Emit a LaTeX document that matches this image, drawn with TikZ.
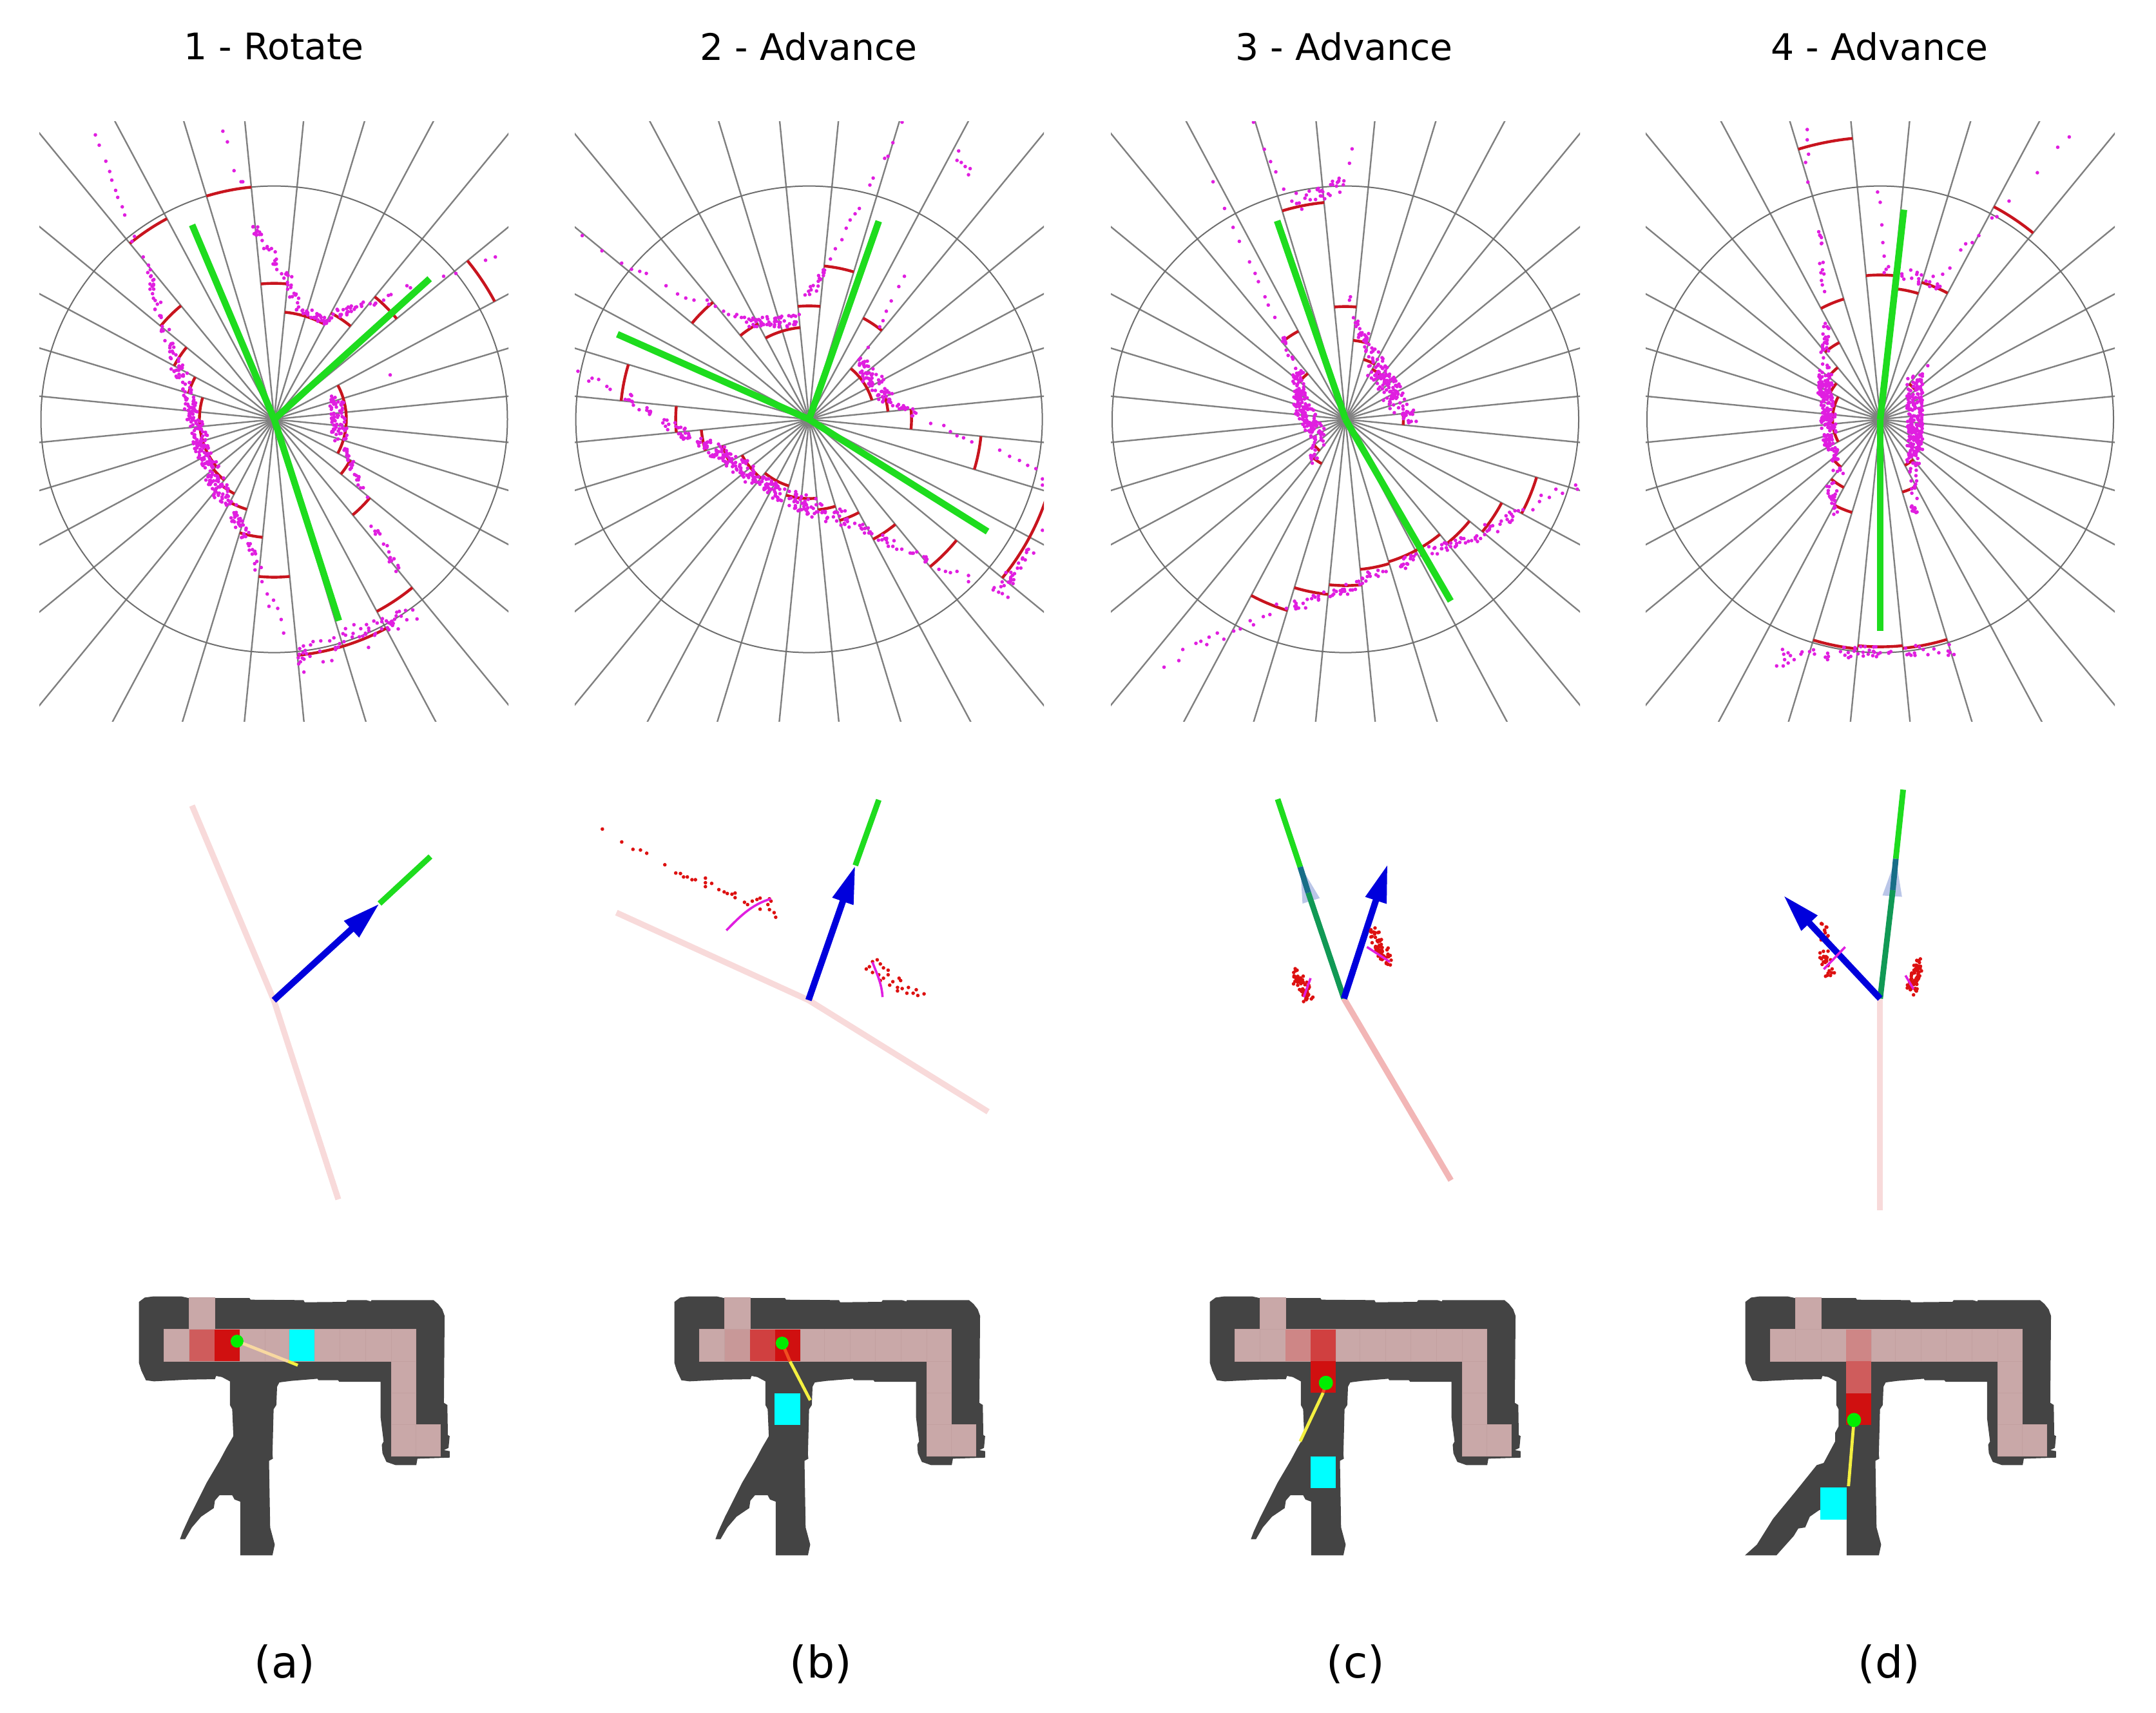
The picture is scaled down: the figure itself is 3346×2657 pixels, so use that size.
\documentclass[tikz,border=0pt]{standalone}
\usepackage{fontspec}
\setmainfont{DejaVu Sans}
\usetikzlibrary{arrows.meta}
\definecolor{raygray}{HTML}{808080}
\definecolor{circgray}{HTML}{6E6E6E}
\definecolor{arcred}{HTML}{C8141E}
\definecolor{magd}{HTML}{E01EE0}
\definecolor{greenl}{HTML}{1EDC1E}
\definecolor{reddot}{HTML}{DD1111}
\definecolor{bluea}{HTML}{0000DC}
\definecolor{palep}{HTML}{F8DADA}
\definecolor{midp}{HTML}{F2B6B6}
\definecolor{darkg}{HTML}{119955}
\definecolor{teal2}{HTML}{186E88}
\definecolor{faintb}{HTML}{BAC6E8}
\definecolor{mapdark}{HTML}{444444}
\definecolor{cellpale}{HTML}{C9A8A8}
\definecolor{cellline}{HTML}{C2A0A0}
\definecolor{cellr1}{HTML}{D01010}
\definecolor{cellr2}{HTML}{D04040}
\definecolor{cellr3}{HTML}{CF5C5C}
\definecolor{cellr4}{HTML}{CE8686}
\definecolor{cellr5}{HTML}{C89898}
\definecolor{cyanb}{HTML}{00FFFF}
\definecolor{dotg}{HTML}{00EE00}
\definecolor{yell}{HTML}{F4F040}
\definecolor{yellp}{HTML}{F8D8A0}
\definecolor{yellr}{HTML}{F05020}
\tikzset{
 ray/.style={draw=raygray,line width=1.2pt},
 circ/.style={draw=circgray,line width=1pt},
 rarc/.style={draw=arcred,line width=2.2pt},
 gline/.style={draw=greenl,line width=5.2pt},
 gmid/.style={draw=greenl,line width=4.4pt},
 paleline/.style={draw=palep,line width=4.6pt},
 midline/.style={draw=midp,line width=4.6pt},
 darkline/.style={draw=darkg,line width=4.4pt},
 tealline/.style={draw=teal2,line width=4.4pt},
 bluearrow/.style={draw=bluea,line width=5pt,-{Triangle[length=29.5pt,width=16pt,fill=bluea]}},
 mdot/.style={fill=magd},
 rdot/.style={fill=reddot},
 marc/.style={draw=magd,line width=1.8pt},
 ttl/.style={inner sep=0pt,font=\fontsize{28.4}{34}\selectfont},
 sub/.style={inner sep=0pt,font=\fontsize{34}{40}\selectfont},
 yline/.style={draw=yell,line width=2.4pt},
 ylp/.style={draw=yellp,line width=2.4pt},
 ylr/.style={draw=yellr,line width=2.4pt},
 gdot/.style={fill=dotg},
}
\newcommand\scat[7]{\foreach \ii in {1,...,#5}{%
 \pgfmathsetmacro\sct{rnd}%
 \pgfmathsetmacro\sxx{#1+(#3-(#1))*\sct+2*#6*(rnd-0.5)}%
 \pgfmathsetmacro\syy{#2+(#4-(#2))*\sct+2*#6*(rnd-0.5)}%
 \fill[#7](\sxx,\syy) circle[radius=1.4pt];}}
\newcommand\pts[2]{\foreach \px/\py in {#2}{\fill[#1](\px,\py) circle[radius=1.4pt];}}
\newcommand\rarc[3]{\draw[rarc] (#1:#3) arc[start angle=#1,end angle=#2,radius=#3];}
\newcommand\wheel{%
 \foreach \k in {0,...,31}{\pgfmathsetmacro\ang{5.625+11.25*\k}\draw[ray] (0,0) -- (\ang:760);}
 \draw[circ] (0,0) circle[radius=362];}
\newcommand\cellp[5]{\fill[#5,draw=cellline,line width=.25pt] (#1,#2) rectangle (#3,#4);}
\newcommand\cell[5]{\fill[#5] (#1,#2) rectangle (#3,#4);}
\newcommand\maptop{(100,120) -- (125,100) -- (160,95) -- (240,95) -- (285,95) -- (315,102) -- (580,102) -- (585,110) -- (815,112) -- (820,122) -- (1000,120) -- (1005,112) -- (1088,112) -- (1108,118) -- (1110,112) -- (1380,112) -- (1400,130) -- (1418,155) -- (1428,185) -- (1425,590) -- (1440,600) -- (1442,740) -- (1450,745) -- (1445,800) -- (1425,810) -- (1450,815) -- (1450,845) -- (1310,850) -- (1305,880) -- (1215,880) -- (1175,865) -- (1158,825) -- (1155,785) -- (1163,770) -- (1150,660) -- (1150,492) -- (970,492) -- (965,485) -- (880,485) -- (875,478) -- (760,488) -- (710,495) -- (700,515) -- (697,600) -- (685,620) -- (680,830) -- (682,850) -- (665,860) -- (670,1170) -- (690,1250) -- (680,1300) -- (540,1300)}
\newcommand\mapbot{(505,620) -- (495,600) -- (495,490) -- (460,470) -- (435,465) -- (430,480) -- (315,482) -- (165,490) -- (130,485) -- (110,440) -- (100,405) -- cycle}
\newcommand\mapA{\fill[mapdark] \maptop -- (540,1050) -- (515,1040) -- (505,1020) -- (450,1020) -- (430,1045) -- (425,1080) -- (370,1120) -- (330,1170) -- (300,1225) -- (278,1225) -- (290,1190) -- (320,1120) -- (395,960) -- (450,860) -- (480,800) -- (510,745) -- \mapbot;}
\newcommand\mapB{\fill[mapdark] \maptop -- (540,1060) -- (420,1090) -- (380,1120) -- (360,1170) -- (330,1175) -- (310,1210) -- (235,1300) -- (98,1300) -- (150,1250) -- (220,1130) -- (320,1000) -- (410,880) -- (440,870) -- (470,810) -- (490,770) -- (490,730) -- (505,700) -- \mapbot;}
\newcommand\cells{%
 \foreach \xa/\xb in {208/318,318/428,428/538,538/648,648/752,752/862,862/972,972/1085,1085/1195,1195/1302}{\cellp{\xa}{248}{\xb}{397}{cellpale}}
 \cellp{318}{100}{428}{248}{cellpale}
 \cellp{1195}{397}{1302}{545}{cellpale}
 \cellp{1195}{545}{1302}{690}{cellpale}
 \cellp{1195}{690}{1302}{838}{cellpale}
 \cellp{1302}{690}{1410}{838}{cellpale}}
\begin{document}
\begin{tikzpicture}[x=0.5pt,y=-0.5pt]
\useasboundingbox (0,0) rectangle (3346,2657);
\pgfmathsetseed{4242}
% titles
\node[ttl] (t1) at (425,72) {1 - Rotate};
\node[ttl] (t2) at (1255,72) {2 - Advance};
\node[ttl] (t3) at (2086,72) {3 - Advance};
\node[ttl] (t4) at (2917,72) {4 - Advance};
\node[sub] (s1) at (442,2582) {(a)};
\node[sub] (s2) at (1274,2582) {(b)};
\node[sub] (s3) at (2104,2582) {(c)};
\node[sub] (s4) at (2932,2582) {(d)};
% ------------ top panel 1
\begin{scope}
\clip (61,188) rectangle (789,1119);
\begin{scope}[shift={(425.5,650.6)},y=0.5pt]
\wheel
\rarc{95.625}{106.875}{362}\rarc{118.125}{129.375}{353}\rarc{28.125}{39.375}{388}
\rarc{39.375}{50.625}{246}\rarc{50.625}{61.875}{187}\rarc{61.875}{84.375}{167}
\rarc{84.375}{95.625}{211}\rarc{129.375}{140.625}{228}\rarc{140.625}{151.875}{176}
\rarc{151.875}{163.125}{139}\rarc{163.125}{219.375}{116}\rarc{219.375}{230.625}{122}
\rarc{230.625}{241.875}{131}\rarc{241.875}{253.125}{146}\rarc{253.125}{264.375}{184}
\rarc{264.375}{275.625}{245}\rarc{275.625}{298.125}{368}\rarc{298.125}{309.375}{338}
\rarc{309.375}{320.625}{192}\rarc{320.625}{331.875}{134}\rarc{331.875}{388.125}{112}
\end{scope}
\begin{scope}[shift={(0,150)},x=0.27105pt,y=-0.31888pt]
\pts{mdot}{273/93,284/118,303/157,314/182,320/203,331/228,337/245,350/268,357/288,638/84,651/110,670/180,690/207,695/207,385/340,378/352,410/390,750/1180,765/1210,783/1225,770/1240,795/1245,805/1272,812/1305,1165/460,1175/465,1270/437,1305/430,1390/398,1418/390,1117/677,860/1375,870/1400,855/1380,925/1375,950/1372,1055/1340,1140/1295}
\scat{425}{420}{470}{560}{24}{12}{mdot}
\scat{470}{560}{500}{640}{18}{12}{mdot}
\scat{500}{640}{545}{740}{40}{16}{mdot}
\scat{545}{740}{580}{860}{95}{20}{mdot}
\scat{575}{860}{640}{970}{90}{20}{mdot}
\scat{640}{970}{700}{1060}{40}{16}{mdot}
\scat{700}{1060}{745}{1150}{16}{12}{mdot}
\scat{725}{315}{820}{440}{28}{10}{mdot}
\scat{820}{440}{860}{520}{18}{12}{mdot}
\scat{860}{520}{940}{545}{30}{10}{mdot}
\scat{950}{530}{1120}{490}{32}{10}{mdot}
\scat{960}{720}{975}{840}{70}{20}{mdot}
\scat{990}{850}{1000}{890}{10}{10}{mdot}
\scat{1000}{890}{1050}{980}{16}{10}{mdot}
\scat{1065}{1030}{1150}{1175}{18}{12}{mdot}
\scat{840}{1360}{1180}{1255}{60}{20}{mdot}
\coordinate (p1a) at (550,312);\coordinate (p1b) at (1230,443);\coordinate (p1c) at (970,1275);\coordinate (p1o) at (785,785);
\draw[gline] (p1o) -- (p1a);\draw[gline] (p1o) -- (p1b);\draw[gline] (p1o) -- (p1c);
\end{scope}
\end{scope}
% ------------ top panel 2
\begin{scope}
\clip (892,188) rectangle (1620,1119);
\begin{scope}[shift={(1255.6,650.6)},y=0.5pt]
\wheel
\rarc{73.125}{84.375}{239}\rarc{84.375}{95.625}{176}\rarc{50.625}{61.875}{178}
\rarc{95.625}{118.125}{143}\rarc{118.125}{129.375}{168}\rarc{129.375}{140.625}{235}
\rarc{163.125}{174.375}{293}\rarc{174.375}{185.625}{207}\rarc{185.625}{196.875}{168}
\rarc{196.875}{208.125}{140}\rarc{208.125}{230.625}{118}\rarc{230.625}{253.125}{108}
\rarc{253.125}{275.625}{123}\rarc{275.625}{286.875}{141}\rarc{286.875}{298.125}{164}
\rarc{298.125}{309.375}{211}\rarc{309.375}{320.625}{296}\rarc{320.625}{343.125}{388}
\rarc{343.125}{354.375}{268}\rarc{354.375}{365.625}{159}\rarc{5.625}{16.875}{123}\rarc{16.875}{50.625}{102}
\end{scope}
\begin{scope}[shift={(850,150)},x=0.2551pt,y=-0.31888pt]
\pts{mdot}{1078/62,1050/112,1035/145,1025/150,990/198,980/215,948/272,935/285,920/300,908/320,895/348,875/370,860/395,1250/132,1245/155,1258/160,1270/170,1285/175,1280/190,1085/437,1068/462,1045/497,1030/522,1020/545,1010/560,975/610,105/338,165/375,225/405,255/420,280/425,300/430,360/460,395/480,420/490,445/495,485/495,490/505,510/510,535/522,550/530,570/535,575/530,765/530,1120/770,1165/795,1205/800,1225/815,1245/825,1265/830,1290/840,1375/860,1405/875,1435/885,1460/897,1485/905,1505/930,1505/945,1190/1150,1210/1155,1225/1158,1245/1155,1280/1165,1280/1180,92/668,125/692,135/685,155/688,180/705,190/712,1400/1218,1355/1200,1505/1055}
\scat{600}{550}{760}{545}{55}{14}{mdot}
\scat{780}{490}{845}{430}{18}{12}{mdot}
\scat{945}{650}{1040}{735}{75}{18}{mdot}
\scat{1040}{740}{1110}{770}{16}{10}{mdot}
\scat{235}{725}{330}{780}{16}{10}{mdot}
\scat{350}{790}{480}{850}{34}{11}{mdot}
\scat{480}{850}{740}{980}{150}{20}{mdot}
\scat{740}{980}{900}{1030}{60}{20}{mdot}
\scat{900}{1030}{1000}{1065}{16}{10}{mdot}
\scat{1000}{1070}{1160}{1130}{22}{10}{mdot}
\scat{1360}{1215}{1480}{1100}{28}{16}{mdot}
\coordinate (p2a) at (212,578);\coordinate (p2b) at (1007,303);\coordinate (p2c) at (1338,1058);\coordinate (p2o) at (795,785);
\draw[gline] (p2o) -- (p2a);\draw[gline] (p2o) -- (p2b);\draw[gline] (p2o) -- (p2c);
\end{scope}
\end{scope}
% ------------ top panel 3
\begin{scope}
\clip (1724,188) rectangle (2452,1119);
\begin{scope}[shift={(2088,650.6)},y=0.5pt]
\wheel
\rarc{95.625}{106.875}{338}\rarc{84.375}{95.625}{175}\rarc{73.125}{84.375}{123}
\rarc{61.875}{73.125}{97}\rarc{50.625}{61.875}{88}\rarc{354.375}{365.625}{90}
\rarc{118.125}{129.375}{155}\rarc{129.375}{140.625}{92}\rarc{230.625}{241.875}{78}\rarc{219.375}{230.625}{63}
\rarc{241.875}{253.125}{310}\rarc{253.125}{264.375}{273}\rarc{264.375}{275.625}{258}
\rarc{275.625}{286.875}{234}\rarc{286.875}{309.375}{231}\rarc{309.375}{320.625}{249}
\rarc{320.625}{331.875}{275}\rarc{331.875}{343.125}{310}
\end{scope}
\begin{scope}[shift={(1680,150)},x=0.2551pt,y=-0.31888pt]
\pts{mdot}{520/62,553/128,572/158,588/183,397/207,432/272,458/318,477/352,508/402,525/430,535/450,555/487,565/507,585/537,820/127,812/162,612/225,650/235,815/487,812/495,1000/790,1015/790,248/1388,293/1372,305/1345,345/1330,360/1325,378/1333,385/1315,410/1305,430/1320,460/1300,480/1295,510/1275,520/1285,550/1265,570/1260,590/1235,620/1245,1340/1005,1390/985,1370/1005,1395/970,1420/975,1440/955,1460/965,1500/945,1505/955}
\scat{640}{260}{800}{210}{30}{18}{mdot}
\scat{825}{545}{880}{620}{32}{14}{mdot}
\scat{880}{640}{990}{780}{130}{24}{mdot}
\scat{603}{570}{635}{640}{12}{8}{mdot}
\scat{655}{670}{660}{740}{50}{16}{mdot}
\scat{660}{740}{720}{830}{120}{22}{mdot}
\scat{700}{850}{705}{885}{14}{10}{mdot}
\scat{640}{1240}{840}{1190}{34}{12}{mdot}
\scat{840}{1180}{1020}{1120}{30}{12}{mdot}
\scat{1020}{1110}{1220}{1065}{34}{14}{mdot}
\scat{1220}{1060}{1340}{1010}{20}{14}{mdot}
\coordinate (p3a) at (592,302);\coordinate (p3c) at (1120,1227);\coordinate (p3o) at (800,785);
\draw[gline] (p3o) -- (p3a);\draw[gline] (p3o) -- (p3c);
\end{scope}
\end{scope}
% ------------ top panel 4
\begin{scope}
\clip (2554,188) rectangle (3282,1119);
\begin{scope}[shift={(2918,650.6)},y=0.5pt]
\wheel
\rarc{95.625}{106.875}{438}\rarc{50.625}{61.875}{374}\rarc{84.375}{95.625}{224}
\rarc{73.125}{84.375}{204}\rarc{61.875}{73.125}{222}\rarc{106.875}{118.125}{195}
\rarc{118.125}{129.375}{135}\rarc{129.375}{140.625}{104}\rarc{140.625}{151.875}{88}
\rarc{151.875}{208.125}{74}\rarc{219.375}{230.625}{96}\rarc{230.625}{241.875}{120}
\rarc{241.875}{253.125}{151}\rarc{253.125}{264.375}{358}\rarc{264.375}{275.625}{353}
\rarc{275.625}{286.875}{357}\rarc{298.125}{309.375}{81}\rarc{286.875}{298.125}{118}\rarc{39.375}{50.625}{71}
\end{scope}
\begin{scope}[shift={(2520,150)},x=0.2551pt,y=-0.31888pt]
\pts{mdot}{558/80,558/105,562/140,553/160,560/208,772/232,780/257,785/312,788/355,792/388,798/420,1355/98,1320/123,1258/185,1172/254,1120/295,1135/292,1080/338,1060/355,1040/358,1025/373,992/417,970/432,465/1385,485/1385,500/1378}
\scat{598}{320}{605}{480}{14}{6}{mdot}
\scat{615}{545}{610}{640}{22}{12}{mdot}
\scat{610}{670}{625}{830}{170}{22}{mdot}
\scat{625}{830}{650}{900}{45}{18}{mdot}
\scat{630}{940}{645}{1015}{24}{14}{mdot}
\scat{885}{700}{885}{880}{210}{24}{mdot}
\scat{930}{650}{890}{700}{10}{6}{mdot}
\scat{880}{900}{885}{1025}{24}{10}{mdot}
\scat{800}{420}{960}{455}{24}{14}{mdot}
\scat{465}{1360}{1010}{1345}{60}{15}{mdot}
\coordinate (p4a) at (852,275);\coordinate (p4c) at (780,1300);\coordinate (p4o) at (780,785);
\draw[gline] (p4o) -- (p4a);\draw[gline] (p4o) -- (p4c);
\end{scope}
\end{scope}
% ------------ middle panel 1
\coordinate (m1o) at (425,1552);\coordinate (m1a) at (298,1250);\coordinate (m1c) at (525,1861);\coordinate (m1t) at (589,1402);\coordinate (m1b) at (668,1329);
\draw[paleline] (m1o) -- (m1a);\draw[paleline] (m1o) -- (m1c);
\draw[gmid] (m1t) -- (m1b);
\draw[bluearrow] (m1o) -- (m1t);
% ------------ middle panel 2
\begin{scope}[shift={(850,1200)},x=0.24235pt,y=-0.17857pt]
\coordinate (m2o) at (835,985);\coordinate (m2a) at (220,605);\coordinate (m2c) at (1410,1470);\coordinate (m2t) at (985,400);\coordinate (m2b) at (1060,115);
\draw[paleline] (m2o) -- (m2a);\draw[paleline] (m2o) -- (m2c);
\draw[gmid] (m2t) -- (m2b);
\draw[bluearrow] (m2o) -- (m2t);
\pts{rdot}{175/242,237/298,273/330,297/333,317/347,375/397,410/433,425/435,435/450,447/450,462/462,473/462,505/455,505/475,525/478,505/492,548/505,565/515,575/522,590/525,600/520,600/540,630/560,640/570,655/555,670/548,680/542,710/545,715/555,705/570,680/590,710/592,725/605,730/625,1055/810,1040/818,1065/828,1030/840,1020/850,1075/845,1090/855,1040/865,1060/875,1090/875,1075/890,1125/890,1130/900,1105/905,1065/900,1095/920,1120/930,1135/935,1155/930,1120/945,1150/955,1180/940,1170/955,1185/965,1205/958}
\draw[marc] (572,682) .. controls (610,630) and (650,570) .. (715,545);
\draw[marc] (1040,820) .. controls (1050,860) and (1070,910) .. (1072,972);
\end{scope}
% ------------ middle panel 3
\begin{scope}[shift={(1900,1200)},x=0.17857pt,y=-0.21046pt]
\coordinate (m3o) at (520,830);\coordinate (m3a) at (232,95);\coordinate (m3k) at (330,345);\coordinate (m3j) at (365,440);\coordinate (m3c) at (985,1500);\coordinate (m3t) at (710,335);
\draw[midline] (m3o) -- (m3c);
\fill[faintb] (330,340) -- (415,460) -- (340,480) -- cycle;
\draw[gmid] (m3k) -- (m3a);
\draw[darkline] (m3o) -- (m3j);
\draw[tealline] (m3j) -- (m3k);
\draw[bluearrow] (m3o) -- (m3t);
\scat{315}{740}{360}{825}{60}{22}{rdot}
\scat{655}{600}{705}{700}{60}{24}{rdot}
\pts{rdot}{640/585,655/570,385/825}
\draw[marc] (620,640) -- (720,695);
\draw[marc] (375,755) -- (345,825);
\end{scope}
% ------------ middle panel 4
\begin{scope}[shift={(2700,1200)},x=0.17857pt,y=-0.21046pt]
\coordinate (m4o) at (610,830);\coordinate (m4a) at (710,60);\coordinate (m4k) at (678,315);\coordinate (m4j) at (665,430);\coordinate (m4c) at (610,1611);\coordinate (m4t) at (190,450);
\draw[paleline] (m4o) -- (m4c);
\fill[faintb] (678,315) -- (705,455) -- (620,450) -- cycle;
\draw[gmid] (m4k) -- (m4a);
\draw[darkline] (m4o) -- (m4j);
\draw[tealline] (m4j) -- (m4k);
\scat{375}{545}{370}{620}{15}{20}{rdot}
\scat{360}{655}{400}{745}{26}{22}{rdot}
\draw[bluearrow] (m4o) -- (m4t);
\scat{780}{700}{745}{800}{70}{20}{rdot}
\draw[marc] (458,640) -- (365,722);
\draw[marc] (720,745) -- (755,795);
\end{scope}
% ------------ map panel 1
\begin{scope}[shift={(180,1980)},x=0.17857pt,y=-0.16667pt]
\mapA\cells
\cell{318}{248}{428}{397}{cellr3}
\cell{428}{248}{538}{397}{cellr1}
\cell{752}{248}{862}{397}{cyanb}
\coordinate (d1) at (526,303);\coordinate (e1) at (790,415);\coordinate (f1) at (748,397);
\draw[yline] (f1) -- (e1);\draw[ylp] (d1) -- (f1);
\fill[gdot] (d1) circle[radius=5pt];
\end{scope}
% ------------ map panel 2
\begin{scope}[shift={(1011,1980)},x=0.17857pt,y=-0.16667pt]
\mapA\cells
\cell{318}{248}{428}{397}{cellr5}
\cell{428}{248}{538}{397}{cellr2}
\cell{538}{248}{648}{397}{cellr1}
\cell{535}{545}{647}{692}{cyanb}
\coordinate (d2) at (568,312);\coordinate (e2) at (690,578);\coordinate (f2) at (602,397);
\draw[yline] (f2) -- (e2);\draw[ylr] (d2) -- (f2);
\fill[gdot] (d2) circle[radius=5pt];
\end{scope}
% ------------ map panel 3
\begin{scope}[shift={(1842,1980)},x=0.17857pt,y=-0.16667pt]
\mapA\cells
\cell{428}{248}{538}{397}{cellr4}
\cell{538}{248}{648}{397}{cellr2}
\cell{538}{397}{648}{543}{cellr1}
\cell{538}{840}{648}{988}{cyanb}
\coordinate (d3) at (604,497);\coordinate (e3) at (492,770);\coordinate (f3) at (592,543);
\draw[yline] (f3) -- (e3);\draw[ylr] (d3) -- (f3);
\fill[gdot] (d3) circle[radius=5.5pt];
\end{scope}
% ------------ map panel 4
\begin{scope}[shift={(2673,1980)},x=0.17857pt,y=-0.16667pt]
\mapB\cells
\cell{538}{248}{648}{397}{cellr4}
\cell{538}{397}{648}{545}{cellr3}
\cell{538}{545}{648}{692}{cellr1}
\cell{426}{985}{540}{1135}{cyanb}
\coordinate (d4) at (572,670);\coordinate (e4) at (548,978);
\draw[yline] (d4) -- (e4);
\fill[gdot] (d4) circle[radius=5.5pt];
\end{scope}
\end{tikzpicture}
\end{document}
